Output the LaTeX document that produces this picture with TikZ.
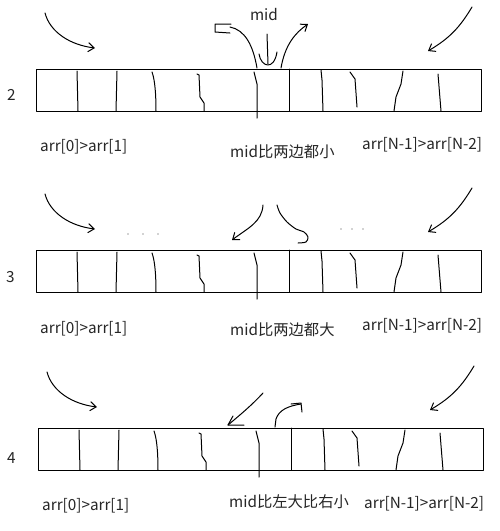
\documentclass[tikz,border=0pt]{standalone}
\usepackage{fontspec}
\setmainfont{Noto Sans CJK SC}
\usetikzlibrary{arrows.meta}
\begin{document}
\begin{tikzpicture}[x=1pt,y=-1pt,
  pen/.style={line width=1pt,line cap=round,line join=round},
  barb/.style={pen,-{Straight Barb[length=6pt,width=9pt,line width=1pt]}},
  lbl/.style={font=\fontsize{15.3}{17}\selectfont,inner sep=0pt,anchor=west,text=black!85},
  dotg/.style={fill=black!35,draw=none}]
\useasboundingbox[fill=white] (0,0) rectangle (499,531);
% common row elements (row 1 coordinates)
\newcommand{\arrrow}{%
  \draw[pen] (36,69) rectangle (481,111);
  \draw[pen] (77,71) -- (78,111);
  \draw[pen] (117,71) -- (116,111);
  \draw[pen] (152,72) .. controls (155,80) and (156,95) .. (156,111);
  \draw[pen] (197,74) -- (199,75) -- (200,97) -- (204,103) -- (204,111);
  \draw[pen] (254,72) -- (257,84) -- (257,118);
  \draw[pen] (289,69) -- (289,111);
  \draw[pen] (321,70) -- (322,80) -- (323,111);
  \draw[pen] (350,72) -- (355,79) -- (357,107);
  \draw[pen] (403,71) -- (401,84) -- (396,97) -- (394,111);
  \draw[pen] (438,74) -- (441,111);
  \draw[barb] (45,13) .. controls (50,32) and (70,45) .. (95,48);
  \draw[barb] (472,7) .. controls (460,27) and (450,38) .. (428,51);
}
% ---- row 2 (label 2) ----
\arrrow
\node[lbl] (n2) at (7,95) {2};
\node[lbl] (l2) at (40,147) {arr[0]>arr[1]};
\node[lbl] (m2) at (230,152) {mid比两边都小};
\node[lbl] (r2) at (362,145) {arr[N-1]>arr[N-2]};
\node[lbl,anchor=center] (mid) at (264,15) {mid};
\draw[pen] (267,34) -- (268,64);
\draw[pen] (259,54) .. controls (261,67) and (274,71) .. (277,52);
\draw[pen] (257,68) .. controls (253,45) and (245,30) .. (230,27);
\draw[pen] (231,24) -- (215,24) -- (215,32) -- (230,33);
\draw[barb] (281,68) .. controls (285,45) and (295,33) .. (308,24);
% ---- row 3 ----
\begin{scope}[shift={(0,181)}]
\arrrow
\end{scope}
\node[lbl] (n3) at (6,277) {3};
\node[lbl] (l3) at (40,329) {arr[0]>arr[1]};
\node[lbl] (m3) at (230,330) {mid比两边都大};
\node[lbl] (r3) at (362,326) {arr[N-1]>arr[N-2]};
\foreach \p in {(128,234),(143,234),(158,234),(341,229),(352,229),(363,229)}
  \fill[dotg] \p circle (0.9);
\draw[barb] (263,205) .. controls (262,222) and (248,228) .. (232,240);
\draw[pen] plot[smooth] coordinates {(277,205) (280,213) (287,222) (296,229) (304,232) (308,237) (306,242) (298,243)};
% ---- row 4 ----
\begin{scope}[shift={(2,359)}]
\arrrow
\end{scope}
\node[lbl] (n4) at (7,458) {4};
\node[lbl] (l4) at (42,506) {arr[0]>arr[1]};
\node[lbl] (m4) at (229,502) {mid比左大比右小};
\node[lbl] (r4) at (364,504) {arr[N-1]>arr[N-2]};
\draw[pen] (263,393) .. controls (252,405) and (240,415) .. (228,425);
\draw[pen] (233,416) -- (228,425) -- (244,425);
\draw[pen] (275,427) -- (276,419) .. controls (279,410) and (288,406) .. (301,404);
\draw[pen] (291,404) -- (301,403) -- (302,412);
\end{tikzpicture}
\end{document}
